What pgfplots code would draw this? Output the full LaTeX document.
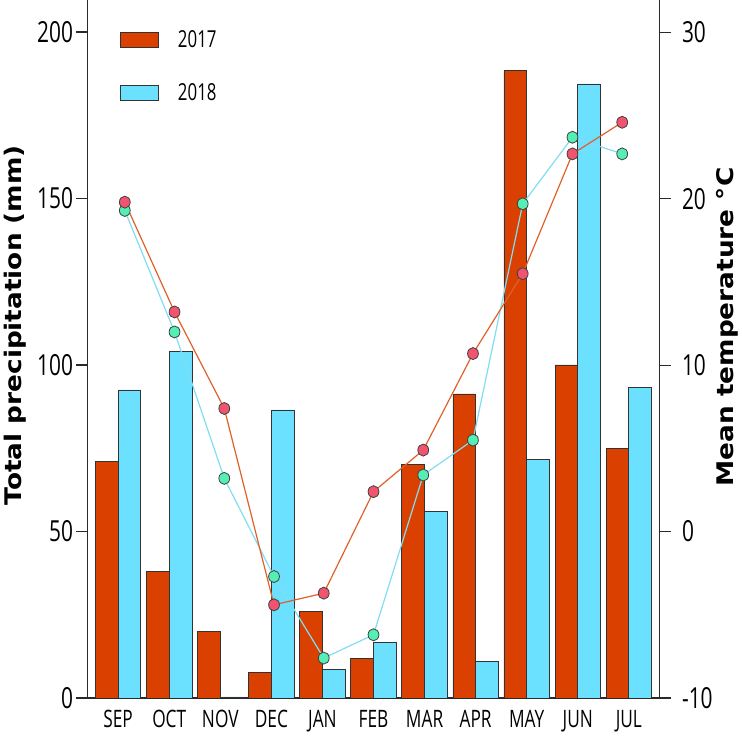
\documentclass[border=0pt]{standalone}
\usepackage{fontspec}
\usepackage{pgfplots}
\pgfplotsset{compat=1.18}
\usepackage{pgfplotstable}
\newfontfamily\tickf{Open Sans}[FakeStretch=0.72]
\newfontfamily\labf{DejaVu Sans}[FakeStretch=1.15]
\definecolor{bar17}{HTML}{DA4100}
\definecolor{bar18}{HTML}{6CE0FF}
\definecolor{pt17}{HTML}{F0546E}
\definecolor{pt18}{HTML}{55EEB4}
\definecolor{ln17}{HTML}{E0602A}
\definecolor{ln18}{HTML}{80DDF2}
\definecolor{axc}{HTML}{2A2A2A}

% month index, precipitation (mm), mean temperature (C)
\pgfplotstableread{
m  p17   p18   t17   t18
0  71    92.5  19.8  19.3
1  38    104   13.2  12.0
2  20    0.3   7.4   3.2
3  7.7   86.5  -4.4  -2.7
4  26    8.6   -3.7  -7.6
5  12    16.7  2.4   -6.2
6  70    56    4.9   3.4
7  91.3  11    10.7  5.5
8  188.5 71.5  15.5  19.7
9  100   184.4 22.7  23.7
10 75    93.3  24.6  22.7
}\clim

\begin{document}
\begin{tikzpicture}
\path[use as bounding box] (-87.5pt,-38pt) rectangle (654.5pt,698pt);
\begin{axis}[
  at={(0pt,0pt)}, anchor=south west,
  width=572pt, height=698pt, scale only axis,
  xmin=-0.6, xmax=10.6, ymin=0, ymax=209.6,
  axis x line=bottom, axis y line=left,
  axis line style={-, axc, line width=1.3pt},
  tick align=outside, major tick length=11pt,
  every tick/.style={axc, line width=1.1pt},
  xtick={0,...,10},
  xticklabels={SEP,OCT,NOV,DEC,JAN,FEB,MAR,APR,MAY,JUN,JUL},
  x tick style={draw=none},
  xticklabel style={font=\tickf\fontsize{24}{24}\selectfont, yshift=2pt},
  ytick={0,50,100,150,200},
  yticklabels={0,50,100,150,200},
  yticklabel style={font=\tickf\fontsize{29}{29}\selectfont},
  ylabel={\labf\bfseries Total precipitation (mm)},
  ylabel style={at={(axis description cs:-0.1267,0.534)}, anchor=center,
    font=\fontsize{22.9}{24}\selectfont},
  legend style={draw=none, fill=none, at={(axis description cs:0.0568,0.956)},
    anchor=north west, inner sep=0pt, row sep=34pt,
    nodes={inner sep=0pt, font=\tickf\fontsize{23.4}{23.4}\selectfont},
    /tikz/every odd column/.append style={column sep=19pt}},
  legend cell align=left,
]
\addplot[ybar, bar width=0.445, bar shift=-0.2225, fill=bar17, draw=black!80,
  line width=0.8pt,
  legend image code/.code={\draw[fill=bar17, draw=black!80, line width=0.8pt] (0pt,-7.5pt) rectangle (38pt,7.5pt);}]
  table[x=m, y=p17] {\clim};
\addlegendentry{2017}
\addplot[ybar, bar width=0.445, bar shift=0.2225, fill=bar18, draw=black!80,
  line width=0.8pt,
  legend image code/.code={\draw[fill=bar18, draw=black!80, line width=0.8pt] (0pt,-7.5pt) rectangle (38pt,7.5pt);}]
  table[x=m, y=p18] {\clim};
\addlegendentry{2018}
\end{axis}
\begin{axis}[
  at={(0pt,0pt)}, anchor=south west,
  width=572pt, height=698pt, scale only axis,
  xmin=-0.75, xmax=10.75, ymin=-10, ymax=31.95,
  axis x line=none, axis y line=right,
  axis line style={-, axc, line width=1.3pt},
  tick align=outside, major tick length=11pt,
  every tick/.style={axc, line width=1.1pt},
  ytick={-10,0,10,20,30},
  yticklabels={-10,0,10,20,30},
  yticklabel pos=right,
  yticklabel style={font=\tickf\fontsize{29}{29}\selectfont, xshift=8pt},
  ylabel={\labf\bfseries Mean temperature °C},
  ylabel style={at={(axis description cs:1.118,0.5315)}, anchor=center,
    font=\fontsize{22.9}{24}\selectfont},
]
\addplot[ln18, line width=1.2pt, mark=*, mark size=6pt,
  mark options={xscale=0.9, fill=pt18, draw=black!75, line width=0.8pt}]
  table[x=m, y=t18] {\clim};
\addplot[ln17, line width=1.2pt, mark=*, mark size=6pt,
  mark options={xscale=0.9, fill=pt17, draw=black!75, line width=0.8pt}]
  table[x=m, y=t17] {\clim};
\end{axis}
\end{tikzpicture}
\end{document}
